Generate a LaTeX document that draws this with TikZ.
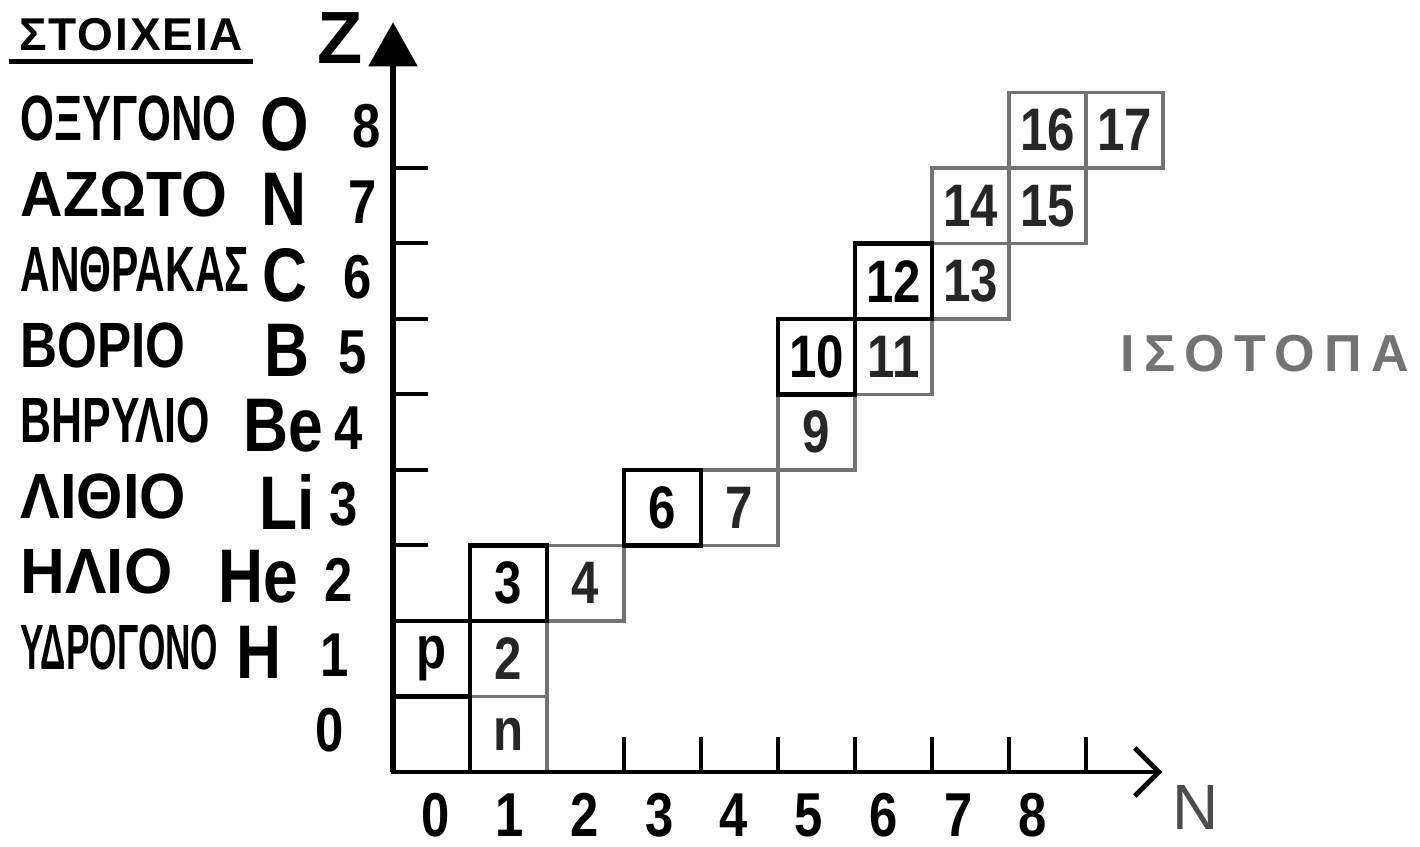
\documentclass[tikz,border=0pt]{standalone}
\usepackage{fontspec}
\setmainfont{Liberation Sans}
\newfontfamily\handfont[FakeStretch=0.82]{Liberation Sans}
\usetikzlibrary{positioning, arrows.meta}

\begin{document}
\begin{tikzpicture}[
                x=38.5pt, y=37.75pt,
                ink/.style={draw=black, line width=2.4pt},
                pale/.style={draw=black!55, line width=1.6pt},
                cell/.style={ink, rectangle, minimum width=38.5pt, minimum height=37.75pt, inner sep=0pt, font=\handfont\bfseries\fontsize{30}{30}\selectfont},
                pcell/.style={cell, pale, text=black!85},
                axistick/.style={draw=black, line width=2pt},
                element/.style={anchor=west, inner sep=0pt, font=\bfseries\fontsize{32}{32}\selectfont},
                symbol/.style={inner sep=0pt, font=\handfont\bfseries\fontsize{38}{38}\selectfont},
                number/.style={inner sep=0pt, font=\handfont\bfseries\fontsize{31}{31}\selectfont},
            ]
                % Fix the page to the proportions of the sheet
                \useasboundingbox (-5.104,-0.993) rectangle (13.338,10.225);

                % Draw the pale cells first, then the inked ones on top
                \foreach \n/\z/\lbl in {1/0/n, 1/1/2, 2/2/4, 4/3/7, 5/4/9, 6/5/11, 7/6/13, 7/7/14, 8/7/15, 8/8/16, 9/8/17}
                    \node[pcell] (c-\lbl) at (\n+0.5,\z+0.5) {\lbl};
                \node[cell] (c-0) at (0.5,0.5) {};
                \foreach \n/\z/\lbl in {0/1/p, 1/2/3, 3/3/6, 5/5/10, 6/6/12}
                    \node[cell] (c-\lbl) at (\n+0.5,\z+0.5) {\lbl};

                % Axes with their ticks
                \coordinate (origin) at (0,0);
                \coordinate (z-tip) at (0,9.93);
                \coordinate (n-tip) at (9.99,0);
                \draw[ink, line width=2.6pt, -{Triangle[width=24pt, length=22pt]}] (origin) -- (z-tip);
                \draw[ink, -{Straight Barb[width=24pt, length=12pt]}] (origin) -- (n-tip);
                \foreach \z in {3,...,8}
                    \draw[axistick] (0,\z) -- (0.45,\z);
                \foreach \n in {3,...,9}
                    \draw[axistick] (\n,0) -- (\n,0.46);

                % Elements along the Z axis
                \foreach \z/\sym/\sx/\name/\nx in {
                        8/O/-1.40/ΟΞΥΓΟΝΟ/0.68, 7/N/-1.41/ΑΖΩΤΟ/0.92, 6/C/-1.40/ΑΝΘΡΑΚΑΣ/0.64,
                        5/B/-1.38/ΒΟΡΙΟ/0.80, 4/Be/-1.42/ΒΗΡΥΛΙΟ/0.67, 3/Li/-1.37/ΛΙΘΙΟ/0.93,
                        2/He/-1.75/ΗΛΙΟ/0.97, 1/H/-1.74/ΥΔΡΟΓΟΝΟ/0.55} {
                    \node[element, xscale=\nx] (name-\z) at (-4.84,\z+0.65) {\name};
                    \node[symbol] (sym-\z) at (\sx,\z+0.58) {\sym};
                }
                \foreach \z in {0,...,8}
                    \node[number] (z-\z) at ({-0.82+0.06*\z},\z+0.55) {\z};

                % Numbers along the N axis
                \foreach \n in {0,...,8}
                    \node[number] (n-\n) at ({0.55+0.97*\n},-0.57) {\n};

                % Titles
                \node[inner sep=5pt, font=\bfseries\fontsize{23}{23}\selectfont\addfontfeature{LetterSpace=4}] (title) at (-3.40,9.76) {ΣΤΟΙΧΕΙΑ};
                \draw[ink] (title.south west) -- (title.south east);
                \node[inner sep=0pt, font=\bfseries\fontsize{37}{37}\selectfont] (z-name) at (-0.69,9.72) {Z};
                \node[inner sep=0pt, font=\fontsize{32}{32}\selectfont, text=black!70] (n-name) at (10.42,-0.47) {N};
                \node[font=\bfseries\fontsize{26}{26}\selectfont\addfontfeature{LetterSpace=18}, text=black!55] (isotopes) at (11.32,5.54) {ΙΣΟΤΟΠΑ};
\end{tikzpicture}
\end{document}
